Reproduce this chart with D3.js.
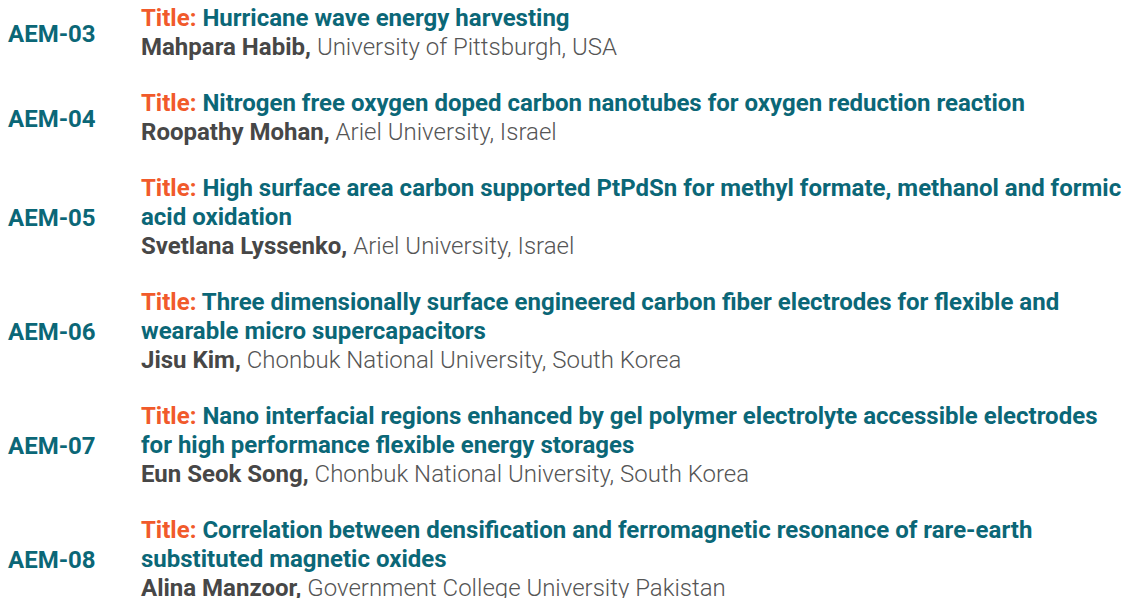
<!DOCTYPE html>
<meta charset="utf-8">
<style>
    html, body {
        margin: 0;
        background: #fff;
    }
    svg text {
        font-family: Roboto, "Open Sans", sans-serif;
    }
</style>
<body>
<svg id="talks" width="1123" height="598"></svg>

<script src="https://cdn.jsdelivr.net/npm/d3@7"></script>
<script>
  // talk codes, title lines (as broken in the programme), speakers, affiliations
  var codes = ["AEM-03", "AEM-04", "AEM-05", "AEM-06", "AEM-07", "AEM-08"];
  var titleLines = [
    ["Hurricane wave energy harvesting"],
    ["Nitrogen free oxygen doped carbon nanotubes for oxygen reduction reaction"],
    ["High surface area carbon supported PtPdSn for methyl formate, methanol and formic", "acid oxidation"],
    ["Three dimensionally surface engineered carbon fiber electrodes for flexible and", "wearable micro supercapacitors"],
    ["Nano interfacial regions enhanced by gel polymer electrolyte accessible electrodes", "for high performance flexible energy storages"],
    ["Correlation between densification and ferromagnetic resonance of rare-earth", "substituted magnetic oxides"]
  ];
  var speakers = ["Mahpara Habib,", "Roopathy Mohan,", "Svetlana Lyssenko,", "Jisu Kim,", "Eun Seok Song,", "Alina Manzoor,"];
  var affiliations = [
    "University of Pittsburgh, USA",
    "Ariel University, Israel",
    "Ariel University, Israel",
    "Chonbuk National University, South Korea",
    "Chonbuk National University, South Korea",
    "Government College University Pakistan"
  ];

  var teal = "#0b6777", orange = "#f15a2b", grey = "#474747";
  var fontSize = 24;
  var lineH = 29, gap = 27;

  // each entry: its title lines + the speaker line, then a gap
  var entries = [];
  var offset = 0;
  codes.forEach(function (c, i) {
    var n = titleLines[i].length + 1;
    entries.push({code: c, lines: titleLines[i], speaker: speakers[i], aff: affiliations[i], start: offset, n: n});
    offset += n * lineH + gap;
  });

  // layout offset -> baseline y
  var y = d3.scaleLinear().domain([0, 1]).range([26, 27]);

  var svg = d3.select("#talks");

  var g = svg.selectAll("g.entry")
    .data(entries)
    .enter().append("g")
    .attr("class", "entry");

  g.append("text")
    .attr("x", 8)
    .attr("y", function (d) { return y(d.start + (d.n - 1) / 2 * lineH) + 1; })
    .attr("font-size", fontSize)
    .attr("font-weight", 700)
    .attr("fill", teal)
    .text(function (d) { return d.code; });

  var t = g.append("text")
    .attr("font-size", fontSize)
    .attr("font-weight", 700)
    .attr("fill", teal);

  t.selectAll("tspan.line")
    .data(function (d) {
      return d.lines.map(function (l, k) { return {text: l, k: k, start: d.start}; });
    })
    .enter().append("tspan")
    .attr("class", "line")
    .attr("x", 141)
    .attr("y", function (d) { return y(d.start + d.k * lineH); })
    .each(function (d) {
      var s = d3.select(this);
      if (d.k === 0) {
        s.append("tspan").attr("fill", orange).text("Title: ");
      }
      s.append("tspan").text(d.text);
    });

  var sp = g.append("text")
    .attr("x", 141)
    .attr("y", function (d) { return y(d.start + (d.n - 1) * lineH); })
    .attr("font-size", fontSize);

  sp.append("tspan")
    .attr("font-weight", 700)
    .attr("fill", grey)
    .text(function (d) { return d.speaker + " "; });

  sp.append("tspan")
    .attr("font-weight", 300)
    .attr("fill", "#555")
    .text(function (d) { return d.aff; });
</script>
</body>
